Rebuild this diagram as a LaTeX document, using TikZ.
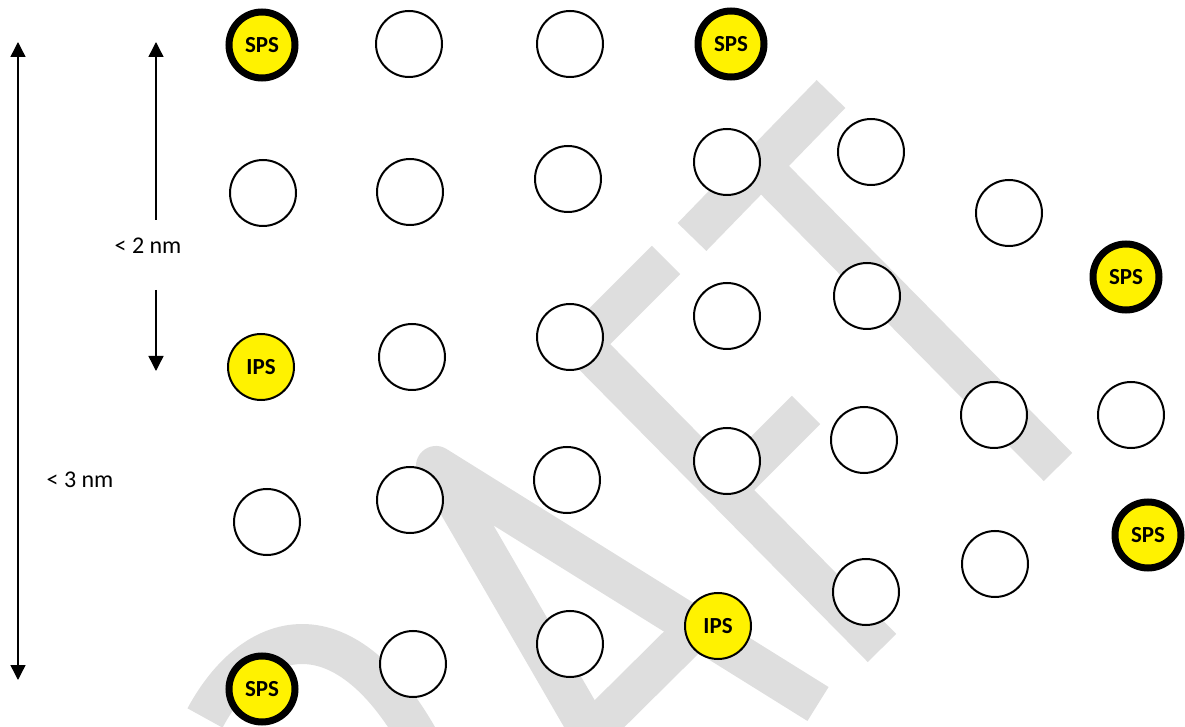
\documentclass[tikz,border=0pt]{standalone}
\usepackage{fontspec}
\setmainfont{Carlito}
\usetikzlibrary{positioning, arrows.meta}

\begin{document}
\begin{tikzpicture}[x=0.5pt, y=-0.5pt, >={Triangle[length=7.5pt, width=7.5pt]}]
  % Define styles for nodes
  \tikzset{
    site/.style={circle, draw, line width=1pt, fill=white, minimum size=33pt, inner sep=0pt},
    spssite/.style={site, fill=yellow, line width=3.5pt, font=\bfseries\fontsize{11.5}{13}\selectfont},
    ipssite/.style={site, fill=yellow, font=\bfseries\fontsize{11.5}{13}\selectfont},
    dimlabel/.style={font=\fontsize{12}{14}\selectfont},
    dimarrow/.style={line width=0.7pt},
    watermark/.style={draw=black!13, line width=20pt}
  }
  \useasboundingbox (0,0) rectangle (1185,727);

  % Draft watermark behind the sites
  \begin{scope}
    \clip (0,0) rectangle (1185,727);
    \draw[watermark] (205,718) .. controls (255,625) and (350,600) .. (430,760);
    \draw[watermark, line join=round] (818,704) -- (436,466) -- (612,770);
    \draw[watermark] (592,731) -- (700,624);
    \draw[watermark, line join=miter] (666,260) -- (582,344) -- (882,648);
    \draw[watermark] (806,410) -- (726,490);
    \draw[watermark] (692,237) -- (831,94);
    \draw[watermark] (761,166) -- (1058,467);
  \end{scope}

  % Dimension arrows
  \coordinate (threetop) at (18,42);
  \coordinate (threebot) at (18,680);
  \node[dimlabel] (lblthree) at (80,480) {< 3 nm};
  \draw[dimarrow, <->] (threetop) -- (threebot);

  \coordinate (twotop) at (156,42);
  \coordinate (twobot) at (156,371);
  \node[dimlabel] (lbltwo) at (148,246) {< 2 nm};
  \coordinate (twoup) at (156,220);
  \coordinate (twodown) at (156,290);
  \draw[dimarrow, ->] (twoup) -- (twotop);
  \draw[dimarrow, ->] (twodown) -- (twobot);

  % First column
  \node[spssite] (sps1) at (262,45) {SPS};
  \node[site] (s12) at (263,193) {};
  \node[ipssite] (ips1) at (261,367) {IPS};
  \node[site] (s14) at (267,522) {};
  \node[spssite] (sps2) at (262,689) {SPS};

  % Second column
  \node[site] (s21) at (409,44) {};
  \node[site] (s22) at (410,192) {};
  \node[site] (s23) at (412,357) {};
  \node[site] (s24) at (410,500) {};
  \node[site] (s25) at (413,664) {};

  % Third column
  \node[site] (s31) at (570,44) {};
  \node[site] (s32) at (568,179) {};
  \node[site] (s33) at (570,337) {};
  \node[site] (s34) at (567,480) {};
  \node[site] (s35) at (570,644) {};

  % Fourth column
  \node[spssite] (sps3) at (731,44) {SPS};
  \node[site] (s42) at (727,162) {};
  \node[site] (s43) at (727,316) {};
  \node[site] (s44) at (727,461) {};
  \node[ipssite] (ips2) at (718,626) {IPS};

  % Fifth column
  \node[site] (s51) at (871,152) {};
  \node[site] (s52) at (867,296) {};
  \node[site] (s53) at (864,440) {};
  \node[site] (s54) at (866,592) {};

  % Sixth column
  \node[site] (s61) at (1009,213) {};
  \node[site] (s62) at (994,415) {};
  \node[site] (s63) at (995,564) {};

  % Right edge
  \node[spssite] (sps4) at (1126,277) {SPS};
  \node[site] (s72) at (1131,415) {};
  \node[spssite] (sps5) at (1148,535) {SPS};
\end{tikzpicture}
\end{document}
